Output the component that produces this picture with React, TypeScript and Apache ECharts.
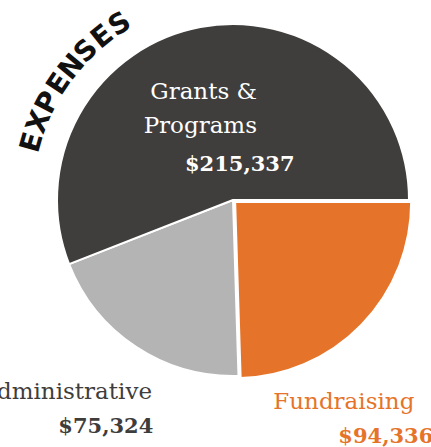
import React, { useEffect, useRef } from "react";
import * as echarts from "echarts";

const categories = ["Fundraising", "Administrative", "Grants & Programs"];
const labelLines = [["Fundraising"], ["Administrative"], ["Grants &", "Programs"]];
const values = [94336, 75324, 215337];
const colors = ["#e5742a", "#b4b4b4", "#403e3c"];
const title = "EXPENSES";

const fmt = (v: number) => "$" + v.toLocaleString("en-US");

export default function App() {
  const ref = useRef<HTMLDivElement>(null);
  useEffect(() => {
    if (!ref.current) return;
    const chart = echarts.init(ref.current, undefined, { renderer: "svg" });
    const cx = 233;
    const cy = 200;
    const serif = "DejaVu Serif";
    const graphic: any[] = [];

    // curved title
    const letters = title.split("");
    const r = 210;
    const a0 = 164;
    const step = 5.886;
    letters.forEach((ch, i) => {
      const th = a0 - i * step;
      const rad = (th * Math.PI) / 180;
      graphic.push({
        type: "text",
        z: 100,
        x: cx + r * Math.cos(rad),
        y: cy - r * Math.sin(rad),
        rotation: ((th - 90) * Math.PI) / 180,
        style: {
          text: ch,
          x: 0,
          y: 0,
          align: "center",
          verticalAlign: "middle",
          font: "bold 28px 'DejaVu Sans'",
          fill: "#111111",
        },
      });
    });

    const txt = (text: string, x: number, y: number, align: string, font: string, fill: string) => ({
      type: "text",
      z: 100,
      style: { text, x, y, align, verticalAlign: "middle", font, fill },
    });

    graphic.push(
      // Grants & Programs (index 2)
      txt(labelLines[2][0], 257, 91, "right", `23px '${serif}'`, "#ffffff"),
      txt(labelLines[2][1], 257, 124.7, "right", `23px '${serif}'`, "#ffffff"),
      txt(fmt(values[2]), 185, 163.7, "left", `bold 21px '${serif}'`, "#ffffff"),
      // Administrative (index 1)
      txt(labelLines[1][0], 152, 391.3, "right", `23px '${serif}'`, "#3f3d3b"),
      txt(fmt(values[1]), 153.3, 425.4, "right", `bold 21px '${serif}'`, "#3f3d3b"),
      // Fundraising (index 0)
      txt(labelLines[0][0], 273.3, 401.3, "left", `23px '${serif}'`, colors[0]),
      txt(fmt(values[0]), 338.3, 435.4, "left", `bold 21px '${serif}'`, colors[0])
    );

    chart.setOption({
      animation: false,
      backgroundColor: "#ffffff",
      series: [
        {
          type: "pie",
          center: [cx, cy],
          radius: [0, 176],
          startAngle: 0,
          clockwise: true,
          selectedMode: "single",
          selectedOffset: 3,
          silent: true,
          z: 2,
          label: { show: false },
          labelLine: { show: false },
          emphasis: { disabled: true },
          itemStyle: { borderColor: "#ffffff", borderWidth: 2 },
          data: categories.map((name, i) => ({
            name,
            value: values[i],
            selected: i === 0,
            itemStyle: { color: colors[i] },
            select: { itemStyle: { color: colors[i], borderColor: "#ffffff", borderWidth: 2 } },
          })),
        },
      ],
      graphic,
    });
    return () => chart.dispose();
  }, []);
  return (
    <div
      ref={ref}
      style={{ position: "fixed", left: 0, top: 0, width: 431, height: 447 }}
    />
  );
}
